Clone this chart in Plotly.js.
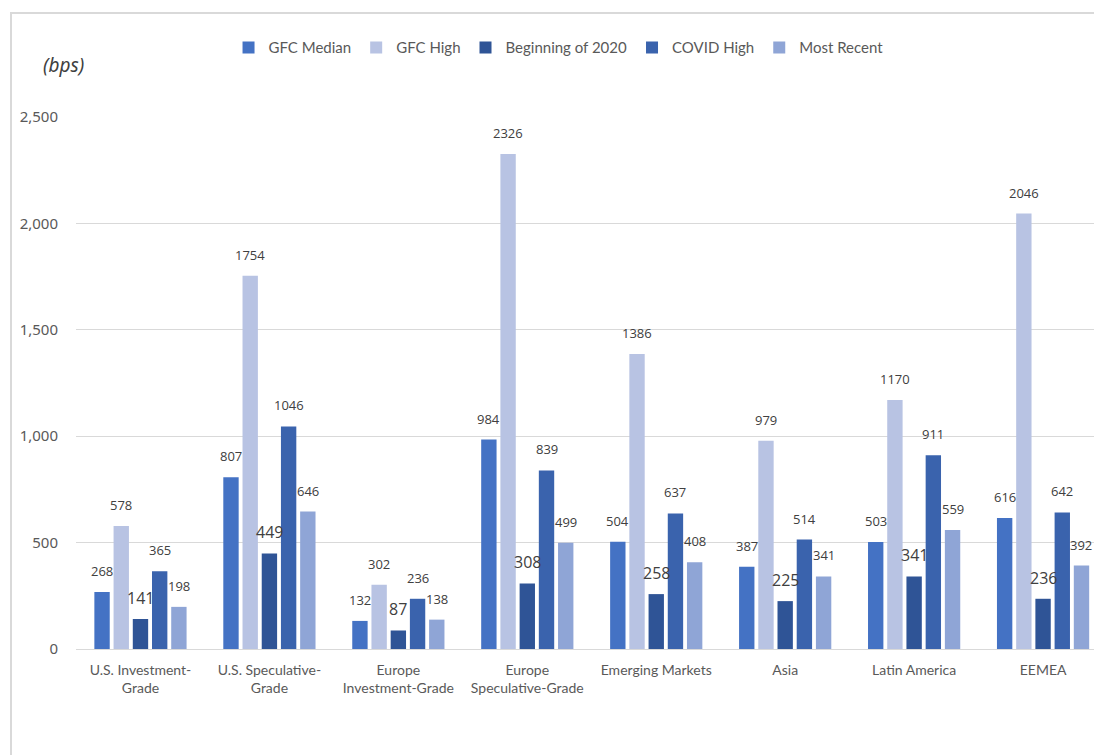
<!DOCTYPE html>
<html>
<head>
<meta charset="utf-8">
<script src="https://cdn.plot.ly/plotly-3.0.1.min.js"></script>
<style>
  html, body { margin: 0; padding: 0; background: #fff; overflow: hidden; }
  #plot { position: absolute; left: 0; top: 0; width: 1094px; height: 755px; }
  #frame { position: absolute; left: 10px; top: 12px; width: 1200px; height: 800px;
           border-left: 2px solid #D9D9D9; border-top: 2px solid #D9D9D9; pointer-events: none; }
</style>
</head>
<body>
<div id="plot"></div>
<div id="frame"></div>
<script>
const categories = ["U.S. Investment-<br>Grade", "U.S. Speculative-<br>Grade", "Europe<br>Investment-Grade",
  "Europe<br>Speculative-Grade", "Emerging Markets", "Asia", "Latin America", "EEMEA"];
const seriesNames = ["GFC Median", "GFC High", "Beginning of 2020", "COVID High", "Most Recent"];
const gfcMedian  = [268, 807, 132, 984, 504, 387, 503, 616];
const gfcHigh    = [578, 1754, 302, 2326, 1386, 979, 1170, 2046];
const begin2020  = [141, 449, 87, 308, 258, 225, 341, 236];
const covidHigh  = [365, 1046, 236, 839, 637, 514, 911, 642];
const mostRecent = [198, 646, 138, 499, 408, 341, 559, 392];

const seriesValues = [gfcMedian, gfcHigh, begin2020, covidHigh, mostRecent];
const colors = ["#4472C4", "#B8C3E3", "#2F5496", "#3A63AD", "#8FA5D6"];
const labelSizes = [13, 13, 16, 13, 13];

const W = 1094, H = 755;
const margin = {l: 76, r: 0, t: 117, b: 106};
const xRange = [-0.5, 7.395];
const bargap = 0.255;

const traces = seriesValues.map((vals, j) => ({
  type: "bar",
  name: seriesNames[j],
  x: categories,
  y: vals,
  marker: {color: colors[j]},
  hoverinfo: "x+y+name"
}));

const plotW = W - margin.l - margin.r;
const catPx = plotW / (xRange[1] - xRange[0]);
const slotPx = catPx * (1 - bargap) / seriesValues.length;

const annotations = [];
seriesValues.forEach((vals, j) => {
  vals.forEach((v, i) => {
    annotations.push({
      x: categories[i], y: v, xref: "x", yref: "y",
      text: String(v), showarrow: false,
      xshift: (j - 2) * slotPx, yshift: 21, yanchor: "middle",
      font: {family: "Open Sans, sans-serif", size: labelSizes[j], color: "#404040"}
    });
  });
});
annotations.push({
  xref: "paper", yref: "paper", x: -0.034, y: 1.097, xanchor: "left", yanchor: "middle",
  text: "<i>(bps)</i>", showarrow: false,
  font: {family: "Noto Sans, sans-serif", size: 19, color: "#404040"}
});

const layout = {
  width: W, height: H,
  margin: margin,
  paper_bgcolor: "#ffffff", plot_bgcolor: "#ffffff",
  barmode: "group", bargap: bargap, bargroupgap: 0.2,
  showlegend: true,
  legend: {
    orientation: "h", x: 0.474, xanchor: "center", y: 1.13, yanchor: "middle",
    font: {family: "Lato, sans-serif", size: 15, color: "#595959"},
    traceorder: "normal", itemwidth: 30
  },
  xaxis: {
    type: "category", range: xRange,
    showline: true, linecolor: "#D9D9D9", linewidth: 1,
    showgrid: false, ticks: "", fixedrange: true,
    tickfont: {family: "Lato, sans-serif", size: 14, color: "#595959"},
    ticklabelstandoff: 8
  },
  yaxis: {
    range: [0, 2500], dtick: 500, tickformat: ",",
    showgrid: true, gridcolor: "#D9D9D9", gridwidth: 1,
    zeroline: false, showline: false, ticks: "",
    tickfont: {family: "Noto Sans, sans-serif", size: 15, color: "#595959"},
    ticklabelstandoff: 17
  },
  annotations: annotations
};

Plotly.newPlot("plot", traces, layout, {displayModeBar: false, staticPlot: true});
</script>
</body>
</html>
